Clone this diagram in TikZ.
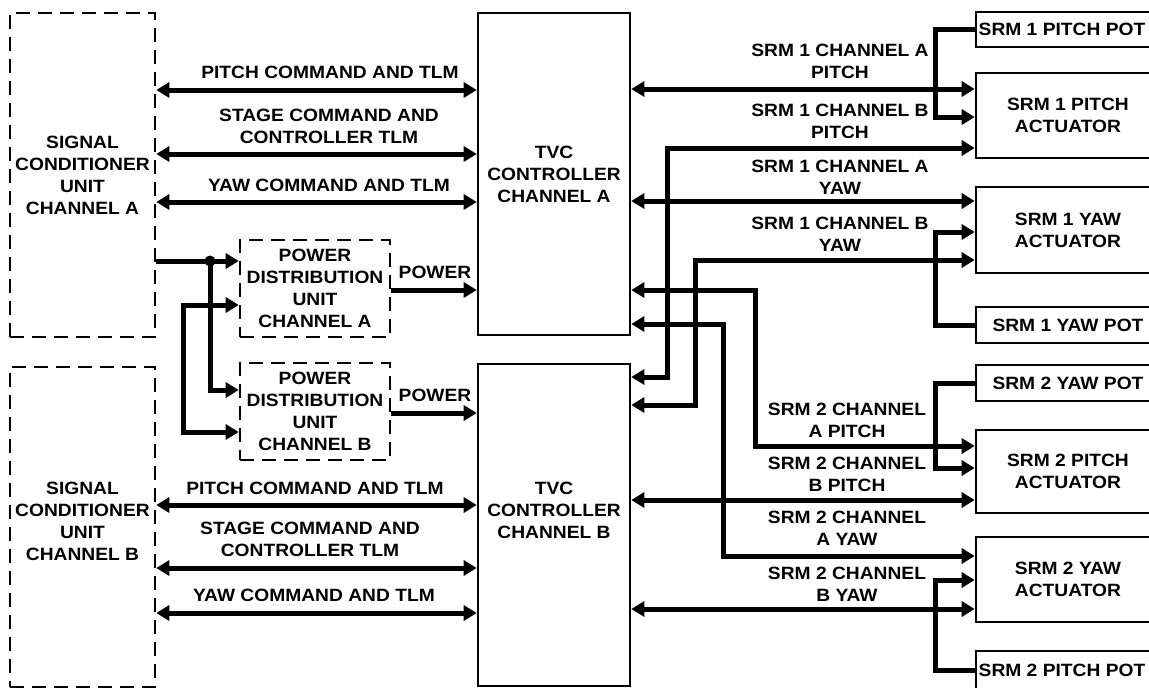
\documentclass[tikz,border=0pt]{standalone}
\usepackage{fontspec}
\setmainfont{Liberation Sans}[FakeStretch=1.08]
\usetikzlibrary{arrows.meta}
\begin{document}
\begin{tikzpicture}[x=1pt,y=-1pt,
  txt/.style={font=\bfseries\fontsize{17.8}{22}\selectfont, align=center, inner sep=0pt},
  solidbox/.style={draw, line width=2.6pt, inner sep=0pt, txt},
  dashbox/.style={draw, line width=2.6pt, dash pattern=on 14pt off 8pt, inner sep=0pt, txt},
  conn/.style={line width=5pt},
  >={Triangle[length=13pt,width=15pt]}
]
\useasboundingbox (0,0) rectangle (1149,688);
\clip (0,0) rectangle (1149,688);
\fill[white] (0,0) rectangle (1149,688);

% boxes
\node[dashbox, minimum width=145pt, minimum height=324pt] (scua) at (82.5,175) {SIGNAL\\CONDITIONER\\UNIT\\CHANNEL A};
\node[dashbox, minimum width=145pt, minimum height=320pt] (scub) at (82.5,527) {};
\node[txt] (scubt) at (82.5,521) {SIGNAL\\CONDITIONER\\UNIT\\CHANNEL B};
\node[solidbox, minimum width=152pt, minimum height=322pt] (tvca) at (554,174) {TVC\\CONTROLLER\\CHANNEL A};
\node[solidbox, minimum width=152pt, minimum height=322pt] (tvcb) at (554,525) {};
\node[txt] (tvcbt) at (554,510) {TVC\\CONTROLLER\\CHANNEL B};
\node[dashbox, minimum width=150pt, minimum height=97pt] (pdua) at (315,288.5) {POWER\\DISTRIBUTION\\UNIT\\CHANNEL A};
\node[dashbox, minimum width=150pt, minimum height=97pt] (pdub) at (315,411.5) {POWER\\DISTRIBUTION\\UNIT\\CHANNEL B};

\node[solidbox, minimum width=184pt, minimum height=35pt] (pot1p) at (1068,29.5) {};
\node[txt] (pot1pt) at (1062,29.5) {SRM 1 PITCH POT};
\node[solidbox, minimum width=184pt, minimum height=85pt] (act1p) at (1068,115.5) {SRM 1 PITCH\\ACTUATOR};
\node[solidbox, minimum width=184pt, minimum height=86pt] (act1y) at (1068,230) {SRM 1 YAW\\ACTUATOR};
\node[solidbox, minimum width=184pt, minimum height=36pt] (pot1y) at (1068,325) {SRM 1 YAW POT};
\node[solidbox, minimum width=184pt, minimum height=36pt] (pot2y) at (1068,383) {SRM 2 YAW POT};
\node[solidbox, minimum width=184pt, minimum height=83pt] (act2p) at (1068,471.5) {SRM 2 PITCH\\ACTUATOR};
\node[solidbox, minimum width=184pt, minimum height=85pt] (act2y) at (1068,579.5) {SRM 2 YAW\\ACTUATOR};
\node[solidbox, minimum width=184pt, minimum height=38pt] (pot2p) at (1068,670) {};
\node[txt] (pot2pt) at (1062,670) {SRM 2 PITCH POT};

% left connectors
\foreach \y in {90,154,202} \draw[conn,<->] (scua.east |- 0,\y) -- (tvca.west |- 0,\y);
\foreach \y in {505,568,613} \draw[conn,<->] (scub.east |- 0,\y) -- (tvcb.west |- 0,\y);

\node[txt] (lpa) at (330,72) {PITCH COMMAND AND TLM};
\node[txt] (lsa) at (329,126) {STAGE COMMAND AND\\CONTROLLER TLM};
\node[txt] (lya) at (329,185) {YAW COMMAND AND TLM};
\node[txt] (lpb) at (315,488) {PITCH COMMAND AND TLM};
\node[txt] (lsb) at (310,539) {STAGE COMMAND AND\\CONTROLLER TLM};
\node[txt] (lyb) at (314,595) {YAW COMMAND AND TLM};

% power
\coordinate (j) at (210,261);
\draw[conn,->] (scua.east |- j) -- (pdua.west |- j);
\draw[conn,->] (j) |- (pdub.west |- 0,390);
\fill (j) circle (5.5pt);
\draw[conn,<->] (pdua.west |- 0,305) -| (183,432) -- (pdub.west |- 0,432);
\draw[conn,->] (pdua.east |- 0,290) -- (tvca.west |- 0,290);
\draw[conn,->] (pdub.east |- 0,413) -- (tvcb.west |- 0,413);
\node[txt] (pwa) at (435,272) {POWER};
\node[txt] (pwb) at (435,395) {POWER};

% right connectors
\draw[conn,<->] (tvca.east |- 0,89) -- (act1p.west |- 0,89);
\draw[conn,->] (pot1p.west) -| (935,117) -- (act1p.west |- 0,117);
\draw[conn,<->] (tvcb.east |- 0,377) -| (667,148) -- (act1p.west |- 0,148);
\draw[conn,<->] (tvca.east |- 0,201) -- (act1y.west |- 0,201);
\draw[conn,<->] (tvcb.east |- 0,405) -| (695,260) -- (act1y.west |- 0,260);
\draw[conn,<-] (act1y.west |- 0,232) -| (935,325) -- (pot1y.west);
\draw[conn,<->] (tvca.east |- 0,290) -| (755,446) -- (act2p.west |- 0,446);
\draw[conn,<->] (tvca.east |- 0,324) -| (723,556) -- (act2y.west |- 0,556);
\draw[conn,->] (pot2y.west) -| (935,468) -- (act2p.west |- 0,468);
\draw[conn,<->] (tvcb.east |- 0,500) -- (act2p.west |- 0,500);
\draw[conn,<-] (act2y.west |- 0,580) -| (935,670) -- (pot2p.west);
\draw[conn,<->] (tvcb.east |- 0,609) -- (act2y.west |- 0,609);

% right labels
\node[txt] (r1) at (840,61) {SRM 1 CHANNEL A\\PITCH};
\node[txt] (r2) at (840,121.5) {SRM 1 CHANNEL B\\PITCH};
\node[txt] (r3) at (840,177.5) {SRM 1 CHANNEL A\\YAW};
\node[txt] (r4) at (840,234) {SRM 1 CHANNEL B\\YAW};
\node[txt] (r5) at (847,420.5) {SRM 2 CHANNEL\\A PITCH};
\node[txt] (r6) at (847,474) {SRM 2 CHANNEL\\B PITCH};
\node[txt] (r7) at (847,528.5) {SRM 2 CHANNEL\\A YAW};
\node[txt] (r8) at (847,584) {SRM 2 CHANNEL\\B YAW};
\end{tikzpicture}
\end{document}
